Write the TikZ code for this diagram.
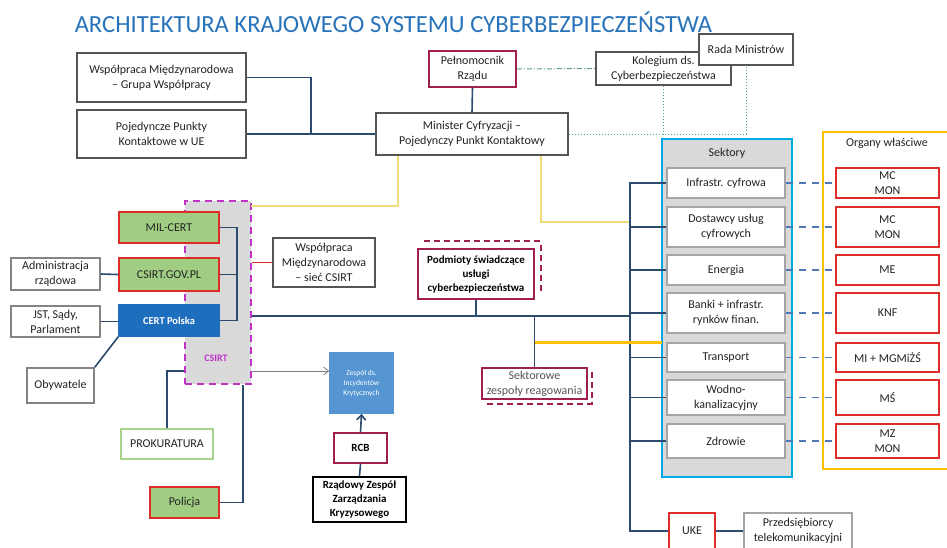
\documentclass[tikz,border=0pt]{standalone}
\usepackage{fontspec}
\setmainfont{Carlito}
\usetikzlibrary{arrows.meta}
\definecolor{titleblue}{RGB}{40,115,185}
\definecolor{linec}{RGB}{45,75,110}
\definecolor{crimson}{RGB}{160,30,80}
\definecolor{redb}{RGB}{220,45,40}
\definecolor{greenfill}{RGB}{160,205,130}
\definecolor{certblue}{RGB}{30,110,190}
\definecolor{zikblue}{RGB}{85,150,210}
\definecolor{csirtmag}{RGB}{190,50,200}
\definecolor{lgray}{RGB}{217,217,217}
\definecolor{sektblue}{RGB}{0,170,230}
\definecolor{yelc}{RGB}{255,192,0}
\definecolor{yelthin}{RGB}{240,220,120}
\definecolor{grayd}{RGB}{85,85,85}
\definecolor{grayl}{RGB}{165,165,165}
\definecolor{dotg}{RGB}{80,170,130}
\definecolor{prokg}{RGB}{170,210,140}
\definecolor{txt}{RGB}{35,35,35}
\definecolor{dashblue}{RGB}{80,120,180}
\tikzset{
  box/.style={draw=grayd, line width=1.6pt, fill=white, align=center, inner sep=1pt,
    font=\fontsize{12}{15}\selectfont, text=txt},
  lbox/.style={box, draw=grayl},
  crbox/.style={box, draw=crimson},
  rbox/.style={box, draw=redb},
  gbox/.style={box, draw=redb, fill=greenfill},
  conn/.style={draw=linec, line width=1.6pt},
  yline/.style={draw=yelthin, line width=1.2pt},
  ythick/.style={draw=yelc, line width=3pt},
  dotline/.style={draw=dotg, line width=1pt, dotted},
  dashdotline/.style={draw=dotg!80!gray, line width=1pt, dash pattern=on 5pt off 2pt on 1pt off 2pt},
  crdash/.style={draw=crimson, line width=2.4pt, dash pattern=on 6pt off 4pt},
  bluedash/.style={draw=dashblue, line width=1.6pt, dash pattern=on 7pt off 6pt},
}
\begin{document}
\begin{tikzpicture}[x=1pt,y=-1pt]
\useasboundingbox (0,0) rectangle (947,547);
\fill[white] (0,0) rectangle (947,547);

% title
\node[text=titleblue, font=\fontsize{24.6}{28}\selectfont, inner sep=0] (title) at (393.5,22) {ARCHITEKTURA KRAJOWEGO SYSTEMU CYBERBEZPIECZEŃSTWA};

% containers
\node[draw=sektblue, line width=1.8pt, fill=lgray, minimum width=130pt, minimum height=338pt, inner sep=0] (sek) at (727,308) {};
\node[font=\fontsize{12}{15}\selectfont, text=txt] (sektl) at (727,153) {Sektory};
\node[draw=yelc, line width=1.8pt, fill=white, minimum width=134pt, minimum height=337pt, inner sep=0] (org) at (890,300.5) {};
\node[font=\fontsize{12}{15}\selectfont, text=txt] (orgl) at (887,143) {Organy właściwe};
\node[draw=csirtmag, line width=2.4pt, dash pattern=on 7pt off 5pt, fill=lgray, minimum width=66pt, minimum height=183pt, inner sep=0] (csirt) at (218,292.5) {};
\node[text=csirtmag, font=\bfseries\fontsize{10}{12}\selectfont] (csirtl) at (216,358) {CSIRT};

% top boxes
\node[box, minimum width=169pt, minimum height=49pt] (wm) at (161.5,77.5) {Współpraca Międzynarodowa\\– Grupa Współpracy};
\node[box, minimum width=169pt, minimum height=48pt] (ppk) at (161.5,134) {Pojedyncze Punkty\\Kontaktowe w UE};
\node[box, minimum width=192pt, minimum height=42pt] (min) at (472,134) {Minister Cyfryzacji –\\Pojedynczy Punkt Kontaktowy};
\node[crbox, minimum width=87pt, minimum height=36pt] (pel) at (472.5,69) {Pełnomocnik\\Rządu};
\node[box, minimum width=135pt, minimum height=33pt] (kol) at (663.5,68.5) {Kolegium ds.\\Cyberbezpieczeństwa};
\node[box, minimum width=94pt, minimum height=31pt] (rada) at (746,49.5) {Rada Ministrów};

% CSIRT group
\node[gbox, minimum width=100pt, minimum height=31pt] (mil) at (169,227.5) {MIL-CERT};
\node[gbox, minimum width=100pt, minimum height=33pt] (gov) at (169,274.5) {CSIRT.GOV.PL};
\node[box, draw=certblue, fill=certblue, text=white, font=\bfseries\fontsize{10.5}{12}\selectfont, minimum width=100pt, minimum height=31pt] (certpl) at (169,320.5) {CERT Polska};
\node[lbox, draw=grayl!80!black, minimum width=89pt, minimum height=32pt] (adm) at (55.5,274) {Administracja\\rządowa};
\node[lbox, draw=grayl!80!black, minimum width=89pt, minimum height=31pt] (jst) at (55.5,321.5) {JST, Sądy,\\Parlament};
\node[lbox, draw=grayl!80!black, minimum width=67pt, minimum height=35pt] (oby) at (60.5,385.5) {Obywatele};
\node[box, minimum width=102pt, minimum height=49pt] (wsc) at (324,262.5) {Współpraca\\Międzynarodowa\\– sieć CSIRT};
\node[box, draw=prokg, minimum width=92pt, minimum height=30pt] (prok) at (167,444) {PROKURATURA};
\node[gbox, minimum width=69pt, minimum height=31pt] (pol) at (184.5,502.5) {Policja};

% center
\node[box, draw=zikblue, fill=zikblue, text=white, font=\fontsize{7.5}{10}\selectfont, minimum width=63pt, minimum height=60pt] (zik) at (361.5,383) {Zespół ds.\\Incydentów\\Krytycznych};
\node[crbox, font=\bfseries\fontsize{11}{14}\selectfont, text=black, minimum width=53pt, minimum height=30pt] (rcb) at (360.5,448) {RCB};
\node[box, draw=black, line width=2pt, font=\bfseries\fontsize{11}{14}\selectfont, text=black, minimum width=93pt, minimum height=45pt] (rzzk) at (359.5,499.5) {Rządowy Zespół\\Zarządzania\\Kryzysowego};
\node[crbox, font=\bfseries\fontsize{11}{14}\selectfont, text=black, minimum width=116pt, minimum height=50pt] (pod) at (476,274) {Podmioty świadczące\\usługi\\cyberbezpieczeństwa};
\node[crbox, text=grayd, minimum width=105pt, minimum height=31pt] (szr) at (534.5,383.5) {Sektorowe\\zespoły reagowania};

% sector boxes and organs
\foreach \n/\cy/\h/\t/\o in {
  1/183/30/{Infrastr. cyfrowa}/{MC\\MON},
  2/227/40/{Dostawcy usług\\cyfrowych}/{MC\\MON},
  3/270/30/{Energia}/{ME},
  4/313/40/{Banki + infrastr.\\rynków finan.}/{KNF},
  5/357.5/29/{Transport}/{MI + MGMiŻŚ},
  6/397.5/35/{Wodno-\\kanalizacyjny}/{MŚ},
  7/441/34/{Zdrowie}/{MZ\\MON}}{
  \node[lbox, minimum width=118pt, minimum height=\h pt] (s\n) at (726,\cy) {\t};
  \node[rbox, minimum width=103pt, minimum height=\h pt] (o\n) at (887.5,\cy) {\o};
  \draw[bluedash] (s\n.east) -- (o\n.west);
}

\node[rbox, minimum width=46pt, minimum height=36pt] (uke) at (692,531) {UKE};
\node[lbox, minimum width=108pt, minimum height=36pt] (prz) at (798,531) {Przedsiębiorcy\\telekomunikacyjni};

% coordinates
\coordinate (j1) at (311,134);
\coordinate (cv) at (237,320.5);
\coordinate (bt) at (630,183);
\coordinate (mb) at (630,316);
\coordinate (y1) at (251,206);
\coordinate (y2) at (630,222);
\coordinate (yk) at (662,342);
\coordinate (za) at ([yshift=12pt]zik.west);
\coordinate (pc) at ([xshift=25pt]csirt.south);

% connectors top
\draw[conn] (wm.east) -| (j1);
\draw[conn] (ppk.east) -- (min.west);
\draw[conn] (pel.south) -- (min.north);
\draw[dashdotline] (pel.east) -- (kol.west);
\draw[dotline] (min.east) -| (rada.south);
\draw[dotline] (kol.south) -- (kol.south |- min.east);
\draw[yline] ([xshift=-74pt]min.south) |- (y1);
\draw[yline] ([xshift=69pt]min.south) |- (y2);

% bus
\draw[conn] (s1.west) -- (bt) |- (uke.west);
\foreach \n in {2,...,7}{ \draw[conn] (s\n.west) -- (s\n.west -| bt); }
\draw[conn] (uke.east) -- (prz.west);
\draw[conn] (csirt.east |- mb) -- (mb);
\draw[conn] (pod.south) -- (pod.south |- mb);
\draw[conn] (szr.north |- mb) -- (szr.north);
\draw[ythick] (szr.north |- yk) -- (yk);

% offset dashed frames
\draw[crdash] ([xshift=7pt,yshift=7pt]pod.north west) -- ([xshift=6pt,yshift=7pt]pod.north east) -- ([xshift=6pt,yshift=6pt]pod.south east);
\draw[crdash] ([xshift=4pt,yshift=-5pt]szr.north east) -- ([xshift=4pt,yshift=-4pt]szr.south east) -- ([xshift=5pt,yshift=-4pt]szr.south west);

% CSIRT group connectors
\draw[conn] (mil.east) -| (cv) -- (certpl.east);
\draw[conn] (gov.east) -- (gov.east -| cv);
\draw[conn] (adm.east) -- (gov.west);
\draw[conn] (jst.east) -- (certpl.west |- jst.east);
\draw[conn] (oby.north east) -- (certpl.south west);
\draw[draw=redb, line width=0.8pt] (csirt.east |- wsc.west) -- (wsc.west);
\draw[draw=gray, line width=0.8pt, -{Straight Barb[length=5pt,width=8pt]}] (csirt.east |- za) -- (za);
\draw[conn] (prok.north) |- (csirt.west |- za);
\draw[conn] (pol.east) -| (pc);
\draw[conn, -{Straight Barb[length=5pt,width=9pt]}] (rcb.north) -- (zik.south);
\draw[conn] (rzzk.north) -- (rcb.south);
\end{tikzpicture}
\end{document}
